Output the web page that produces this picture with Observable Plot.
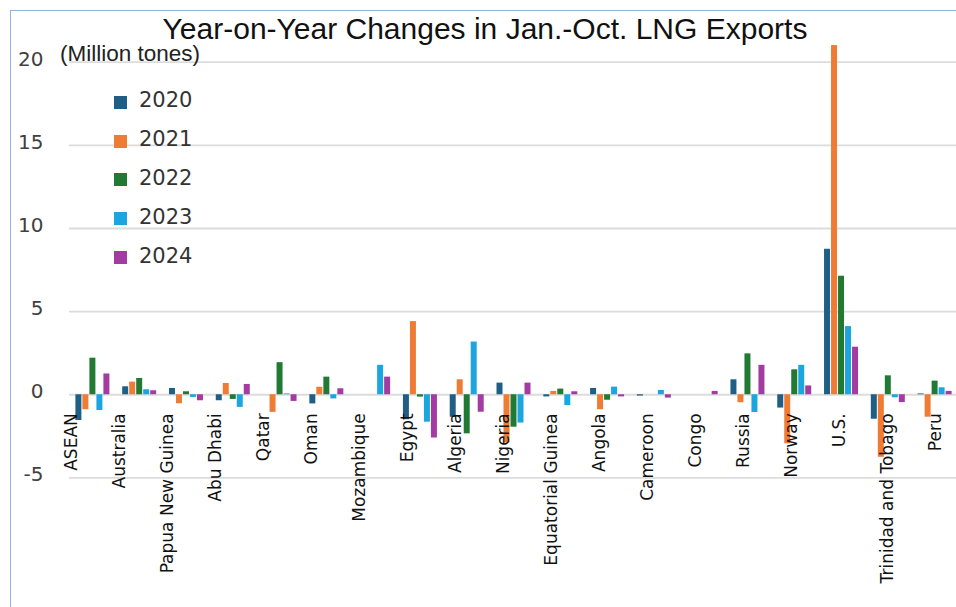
<!DOCTYPE html>
<html>
<head>
<meta charset="utf-8">
<script src="https://cdn.jsdelivr.net/npm/d3@7"></script>
<script src="https://cdn.jsdelivr.net/npm/@observablehq/plot@0.6"></script>
<style>
  html, body { margin: 0; padding: 0; background: #fff; }
  #wrap { position: relative; width: 956px; height: 607px; overflow: hidden; }
  #frame { position: absolute; left: 10px; top: 10px; width: 1200px; height: 1200px;
           border-left: 1.5px solid #8db3e2; border-top: 1.5px solid #8db3e2; }
  #chart { position: absolute; left: 0; top: 0; }
  #title { position: absolute; left: 0; width: 970px; top: 12px; text-align: center;
           font-family: "Liberation Sans", Arial, sans-serif; font-size: 30px; line-height: 34px; color: #111; }
  #unit { position: absolute; left: 60px; top: 41px; font-family: "Liberation Sans", Arial, sans-serif;
          font-size: 22.5px; line-height: 26px; color: #222; }
  #legend { position: absolute; left: 114px; top: 81px; font-family: "DejaVu Sans", sans-serif; font-size: 21px; color: #333; }
  .item { height: 38.8px; display: flex; align-items: center; }
  .sw { width: 13px; height: 13px; margin-right: 12px; margin-top: 4px; }
</style>
</head>
<body>
<div id="wrap">
  <div id="frame"></div>
  <div id="chart"></div>
  <div id="title">Year-on-Year Changes in Jan.-Oct. LNG Exports</div>
  <div id="unit">(Million tones)</div>
  <div id="legend"></div>
</div>
<script>
const countries = ["ASEAN","Australia","Papua New Guinea","Abu Dhabi","Qatar","Oman","Mozambique","Egypt","Algeria","Nigeria","Equatorial Guinea","Angola","Cameroon","Congo","Russia","Norway","U.S.","Trinidad and Tobago","Peru"];
const years = ["2020","2021","2022","2023","2024"];
const v2020 = [-1.55, 0.48, 0.38, -0.36, 0, -0.55, 0, -1.5, -1.35, 0.7, -0.13, 0.38, -0.08, 0, 0.9, -0.8, 8.75, -1.47, 0.05];
const v2021 = [-0.9, 0.76, -0.54, 0.68, -1.06, 0.45, 0, 4.4, 0.9, -2.9, 0.2, -0.9, 0, 0, -0.48, -2.95, 21.0, -3.76, -1.35];
const v2022 = [2.2, 0.98, 0.18, -0.28, 1.93, 1.06, 0, -0.14, -2.35, -1.95, 0.34, -0.33, 0, 0, 2.46, 1.5, 7.13, 1.14, 0.82];
const v2023 = [-0.95, 0.3, -0.16, -0.76, 0.05, -0.25, 1.77, -1.65, 3.17, -1.7, -0.65, 0.46, 0.26, 0, -1.07, 1.77, 4.1, -0.18, 0.42];
const v2024 = [1.25, 0.24, -0.36, 0.62, -0.4, 0.36, 1.06, -2.6, -1.05, 0.7, 0.18, -0.13, -0.2, 0.2, 1.77, 0.53, 2.86, -0.47, 0.2];
const yTicks = [-5, 0, 5, 10, 15, 20];
const colors = ["#1f5f86", "#ef7b35", "#217a33", "#1ba6e0", "#a33ba2"];

const series = [v2020, v2021, v2022, v2023, v2024];
const rows = [];
years.forEach((yr, j) => countries.forEach((c, i) => rows.push({country: c, year: yr, value: series[j][i]})));

const n = countries.length;
const barMarks = years.map((yr, j) =>
  Plot.barY(rows.filter(r => r.year === yr), {
    x: "country", y: "value", fill: colors[j],
    insetLeft: 20.4, insetRight: 20.4, dx: (j - 2) * 7
  })
);
const labelMarks = countries.map((c, i) =>
  Plot.text([c], {
    x: d => d, y: () => 0, text: d => d,
    rotate: -90, textAnchor: "end", dy: 18.5, dx: -21 * (1 - i / (n - 1)),
    fontSize: 17, fill: "#111"
  })
);

const chart = Plot.plot({
  width: 956,
  height: 607,
  marginLeft: 69,
  marginRight: 0,
  marginTop: 0,
  marginBottom: 0,
  style: {fontFamily: "DejaVu Sans, sans-serif", background: "transparent", overflow: "visible"},
  x: {domain: countries, range: [69, 958], padding: 0, round: false, axis: null},
  y: {domain: [-5, 20], range: [477.4, 61.7]},
  marks: [
    Plot.ruleY(yTicks, {stroke: "#dcdcdc", strokeWidth: 1.8}),
    Plot.axisY({ticks: yTicks, tickFormat: d => String(d), tickSize: 0, tickPadding: 26, fontSize: 20, dy: -3, color: "#404040", label: null}),
    ...barMarks,
    ...labelMarks
  ]
});
document.getElementById("chart").appendChild(chart);

const legend = document.getElementById("legend");
years.forEach((yr, j) => {
  const item = document.createElement("div");
  item.className = "item";
  const sw = document.createElement("span");
  sw.className = "sw";
  sw.style.background = colors[j];
  const t = document.createElement("span");
  t.textContent = yr;
  item.appendChild(sw);
  item.appendChild(t);
  legend.appendChild(item);
});
</script>
</body>
</html>
